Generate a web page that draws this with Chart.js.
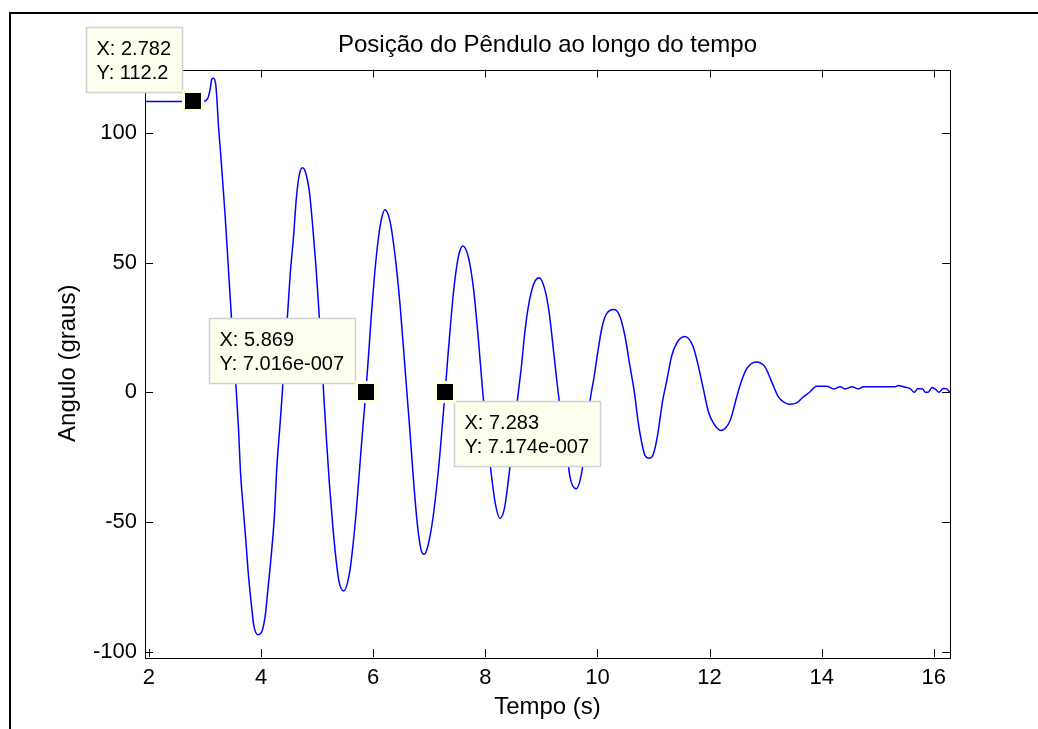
<!DOCTYPE html>
<html>
<head>
<meta charset="utf-8">
<title>Posição do Pêndulo</title>
<script src="https://cdn.jsdelivr.net/npm/chart.js@4/dist/chart.umd.min.js"></script>
<style>
  html, body { margin: 0; padding: 0; background: #fff; }
</style>
</head>
<body>
<canvas id="grafico" width="1038" height="729"></canvas>
<script>
// Valores (tempo em s, ângulo em graus)
const tempo = [
  1.93, 2.40, 2.782, 2.97, 3.05, 3.095, 3.12, 3.15, 3.19, 3.21, 3.24, 3.28, 3.32, 3.36, 3.40, 3.44,
  3.48, 3.52, 3.56, 3.60, 3.63, 3.68, 3.73, 3.77, 3.83, 3.87, 3.945, 4.02, 4.08, 4.12, 4.18,
  4.24, 4.28, 4.33, 4.38, 4.42, 4.48, 4.52, 4.58, 4.63, 4.68, 4.74, 4.80, 4.86, 4.92, 4.98, 5.03,
  5.08, 5.12, 5.17, 5.22, 5.28, 5.34, 5.39, 5.475, 5.58, 5.64, 5.70, 5.76, 5.82, 5.869, 5.92, 5.97,
  6.02, 6.08, 6.14, 6.21, 6.30, 6.39, 6.48, 6.565, 6.655, 6.715, 6.785, 6.85, 6.91, 6.98, 7.07, 7.13,
  7.19, 7.24, 7.283, 7.33, 7.37, 7.43, 7.49, 7.54, 7.60, 7.70, 7.79, 7.875, 7.955, 8.03, 8.11, 8.18,
  8.262, 8.34, 8.40, 8.46, 8.52, 8.59, 8.65, 8.70, 8.76, 8.83, 8.89, 8.963, 9.065, 9.14, 9.21, 9.285,
  9.33, 9.45, 9.51, 9.62, 9.72, 9.78, 9.87, 9.94, 10.00, 10.08, 10.155, 10.30, 10.40, 10.49, 10.58, 10.66,
  10.73, 10.79, 10.85, 10.93, 11.00, 11.07, 11.165, 11.235, 11.325, 11.415, 11.56, 11.71, 11.80, 11.89, 11.98, 12.07,
  12.205, 12.37, 12.485, 12.575, 12.665, 12.83, 12.99, 13.11, 13.23, 13.32, 13.42, 13.555, 13.67, 13.79, 13.91, 14.09,
  14.22, 14.33, 14.42, 14.54, 14.655, 14.745, 15.31, 15.37, 15.46, 15.58, 15.655, 15.715, 15.80, 15.85, 15.90, 15.97,
  16.04, 16.09, 16.17, 16.23, 16.29
];
const angulo = [
  112.2, 112.2, 112.2, 112.2, 113.4, 117.2, 120.7, 121.1, 119.0, 114.0, 103.0, 92.0, 80.0, 68.0, 54.0, 40.0,
  26.0, 12.0, 0.0, -14.8, -29.5, -44.2, -57.5, -69.2, -82.4, -89.8, -93.5, -92.0, -85.3, -76.6, -63.4,
  -47.2, -29.5, -14.8, 0.0, 14.6, 32.2, 45.5, 60.2, 74.9, 83.6, 86.6, 84.4, 77.8, 64.5, 48.4, 32.2,
  14.6, -1.6, -19.3, -35.4, -51.6, -64.8, -72.9, -76.6, -69.5, -59.0, -45.5, -29.0, -12.5, 0.0, 15.0, 30.5,
  44.0, 57.0, 66.0, 70.4, 66.0, 52.8, 33.7, 10.2, -14.8, -32.5, -50.2, -60.4, -62.5, -59.0, -48.0, -37.0,
  -24.0, -11.0, 0.0, 13.0, 23.5, 38.0, 48.5, 54.0, 56.4, 52.0, 40.0, 21.0, 0.0, -16.0, -32.0, -43.0,
  -48.6, -45.0, -36.0, -25.0, -12.5, 0.0, 11.0, 22.0, 32.0, 39.5, 43.0, 44.2, 39.5, 30.7, 17.5, 2.8,
  -5.0, -22.0, -32.5, -37.2, -31.0, -20.7, -3.1, 5.8, 14.5, 24.8, 30.0, 31.9, 29.3, 21.9, 10.2, 0.0,
  -11.9, -19.3, -24.4, -25.4, -23.7, -17.0, -3.1, 4.2, 14.0, 19.0, 21.5, 17.5, 10.2, 1.3, -7.5, -11.9,
  -14.7, -10.8, -1.8, 4.6, 9.1, 11.7, 9.8, 4.0, -1.8, -3.7, -4.6, -4.1, -1.8, 0.1, 2.3, 2.3,
  1.3, 2.1, 1.3, 2.1, 1.3, 2.1, 2.1, 2.6, 2.1, 1.4, 0.0, 1.4, 1.3, 0.0, 0.0, 1.8,
  1.0, 0.0, 1.5, 1.3, 0.0
];

// Marcas dos eixos
const marcasX = [2, 4, 6, 8, 10, 12, 14, 16];
const marcasY = [-100, -50, 0, 50, 100];

// Data tips (cursor de dados)
const dicasX = [2.782, 5.869, 7.283];
const dicasY = [112.2, 7.016e-7, 7.174e-7];
const dicasTexto = [
  ['X: 2.782', 'Y: 112.2'],
  ['X: 5.869', 'Y: 7.016e-007'],
  ['X: 7.283', 'Y: 7.174e-007']
];

const fonte = '"Liberation Sans", Arial, Helvetica, sans-serif';

// Moldura da figura, caixa dos eixos e marcas para dentro
const moldura = {
  id: 'moldura',
  beforeDraw(chart) {
    const ctx = chart.ctx;
    ctx.save();
    ctx.fillStyle = '#fff';
    ctx.fillRect(0, 0, chart.width, chart.height);
    ctx.strokeStyle = '#000';
    ctx.lineWidth = 2;
    ctx.strokeRect(10, 13, chart.width + 20, chart.height + 20);
    ctx.restore();
  },
  afterDatasetsDraw(chart) {
    const ctx = chart.ctx;
    const a = chart.chartArea;
    const sx = chart.scales.x;
    const sy = chart.scales.y;
    const tam = 8;
    ctx.save();
    ctx.strokeStyle = '#000';
    ctx.lineWidth = 1;
    ctx.beginPath();
    sx.ticks.forEach(t => {
      const p = Math.round(sx.getPixelForValue(t.value)) + 0.5;
      ctx.moveTo(p, a.bottom); ctx.lineTo(p, a.bottom - tam);
      ctx.moveTo(p, a.top); ctx.lineTo(p, a.top + tam);
    });
    sy.ticks.forEach(t => {
      const p = Math.round(sy.getPixelForValue(t.value)) + 0.5;
      ctx.moveTo(a.left, p); ctx.lineTo(a.left + tam, p);
      ctx.moveTo(a.right, p); ctx.lineTo(a.right - tam, p);
    });
    ctx.stroke();
    ctx.strokeRect(Math.round(a.left) + 0.5, Math.round(a.top) + 0.5,
      Math.round(a.right - a.left), Math.round(a.bottom - a.top));
    ctx.restore();
  }
};

// Caixas amarelas com os valores e os marcadores quadrados
const cursores = {
  id: 'cursores',
  afterDraw(chart) {
    const ctx = chart.ctx;
    const sx = chart.scales.x;
    const sy = chart.scales.y;
    const lado = ['no', 'no', 'se'];
    ctx.save();
    ctx.font = '20px ' + fonte;
    ctx.textBaseline = 'middle';
    dicasX.forEach((vx, i) => {
      const mx = sx.getPixelForValue(vx);
      const my = sy.getPixelForValue(dicasY[i]);
      const linhas = dicasTexto[i];
      const w = Math.ceil(Math.max(...linhas.map(l => ctx.measureText(l).width))) + 21;
      const h = 65;
      let x0, y0;
      if (lado[i] === 'no') { x0 = mx - 11 - w; y0 = my - 9 - h; }
      else { x0 = mx + 9; y0 = my + 9; }
      x0 = Math.round(x0) + 0.5; y0 = Math.round(y0) + 0.5;
      ctx.fillStyle = 'rgb(255,255,238)';
      ctx.fillRect(x0, y0, w, h);
      ctx.strokeStyle = '#d0d0d0';
      ctx.lineWidth = 1.5;
      ctx.strokeRect(x0, y0, w, h);
      ctx.fillStyle = '#000';
      ctx.fillText(linhas[0], x0 + 10, y0 + 22);
      ctx.fillText(linhas[1], x0 + 10, y0 + 46);
      // marcador
      ctx.fillStyle = 'rgb(255,255,225)';
      ctx.fillRect(Math.round(mx - 11), Math.round(my - 11), 22, 22);
      ctx.fillStyle = '#000';
      ctx.fillRect(Math.round(mx - 8), Math.round(my - 8), 16, 16);
    });
    ctx.restore();
  }
};

const pontos = tempo.map((t, i) => ({ x: t, y: angulo[i] }));

new Chart(document.getElementById('grafico'), {
  type: 'line',
  data: {
    datasets: [{
      label: 'Posição',
      data: pontos,
      borderColor: '#0000ff',
      borderWidth: 1.5,
      pointRadius: 0,
      fill: false,
      cubicInterpolationMode: 'monotone'
    }]
  },
  options: {
    responsive: false,
    animation: false,
    devicePixelRatio: 1,
    layout: { padding: { left: 0, top: 0, right: 88, bottom: 0 } },
    plugins: {
      legend: { display: false },
      tooltip: { enabled: false },
      title: {
        display: true,
        text: 'Posição do Pêndulo ao longo do tempo',
        fullSize: false,
        color: '#000',
        font: { family: fonte, size: 24, weight: 'normal' },
        padding: { top: 30.5, bottom: 10.2 }
      }
    },
    scales: {
      x: {
        type: 'linear',
        min: 1.93,
        max: 16.29,
        afterBuildTicks: s => { s.ticks = marcasX.map(v => ({ value: v })); },
        afterFit: s => { s.height = 72; },
        grid: { display: false, drawTicks: false },
        border: { display: false },
        ticks: {
          color: '#000',
          padding: 8,
          maxRotation: 0,
          font: { family: fonte, size: 22 }
        },
        title: {
          display: true,
          text: 'Tempo (s)',
          color: '#000',
          font: { family: fonte, size: 24 },
          padding: { top: 0, bottom: 7.5 }
        }
      },
      y: {
        type: 'linear',
        min: -102.1,
        max: 124.5,
        afterBuildTicks: s => { s.ticks = marcasY.map(v => ({ value: v })); },
        afterFit: s => { s.width = 145; },
        grid: { display: false, drawTicks: false },
        border: { display: false },
        ticks: {
          color: '#000',
          padding: 8,
          font: { family: fonte, size: 22 }
        },
        title: {
          display: true,
          text: 'Angulo (graus)',
          color: '#000',
          font: { family: fonte, size: 24 },
          padding: { top: 53.5, bottom: 0 }
        }
      }
    }
  },
  plugins: [moldura, cursores]
});
</script>
</body>
</html>
